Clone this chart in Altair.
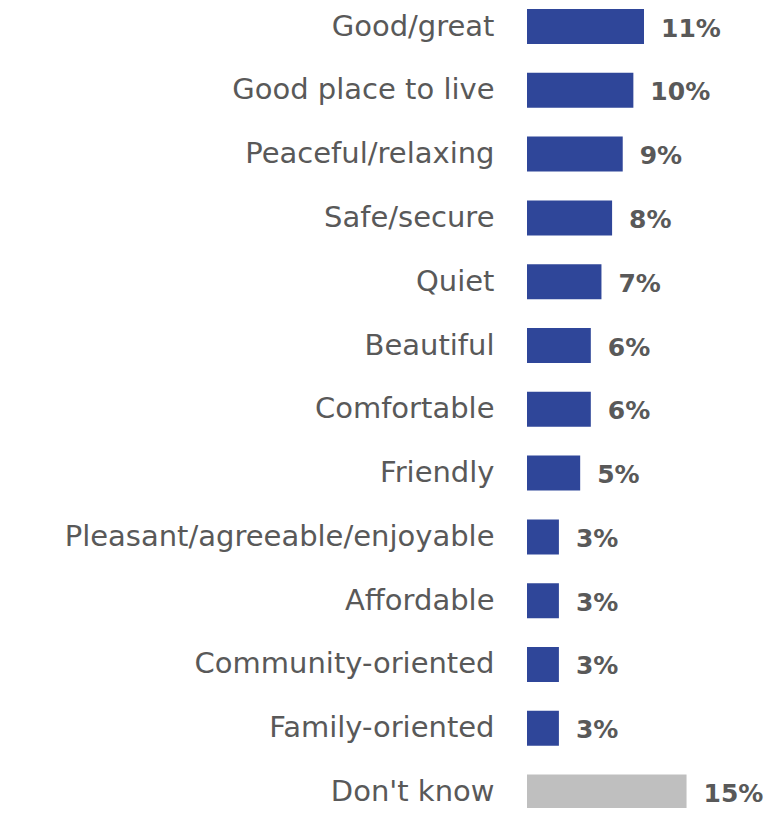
import altair as alt
import pandas as pd

categories = [
    "Good/great", "Good place to live", "Peaceful/relaxing", "Safe/secure",
    "Quiet", "Beautiful", "Comfortable", "Friendly",
    "Pleasant/agreeable/enjoyable", "Affordable", "Community-oriented",
    "Family-oriented", "Don't know",
]
values = [11, 10, 9, 8, 7, 6, 6, 5, 3, 3, 3, 3, 15]

df = pd.DataFrame({"category": categories, "value": values})
df["label"] = [f"{v}%" for v in values]

BLUE = "#2F4699"
GRAY = "#BFBFBF"
TEXT = "#595959"
FONT = "DejaVu Sans"

y = alt.Y(
    "category:N",
    sort=categories,
    title=None,
    scale=alt.Scale(paddingInner=0.4514, paddingOuter=0, range=[1, 801.6]),
    axis=alt.Axis(
        domain=False, ticks=False, grid=False,
        labelFontSize=29, labelFont=FONT, labelColor=TEXT,
        labelPadding=33, labelOffset=0, labelLimit=0,
    ),
)
x = alt.X("value:Q", title=None, scale=alt.Scale(domain=[0, 22]), axis=None)

bars = alt.Chart(df).mark_bar().encode(
    x=x, y=y,
    color=alt.condition(alt.datum.category == "Don't know", alt.value(GRAY), alt.value(BLUE)),
)
texts = alt.Chart(df).mark_text(
    align="left", baseline="middle", dx=17, dy=2,
    font=FONT, fontSize=25, fontWeight="bold", color=TEXT,
).encode(x=x, y=y, text="label:N")

chart = (bars + texts).properties(
    width=234, height=800,
    autosize=alt.AutoSizeParams(type="none"),
    padding={"left": 519, "top": 0, "right": 3, "bottom": 0},
).configure_view(stroke=None)

chart.save("out.html", embed_options={"renderer": "svg", "actions": False})
